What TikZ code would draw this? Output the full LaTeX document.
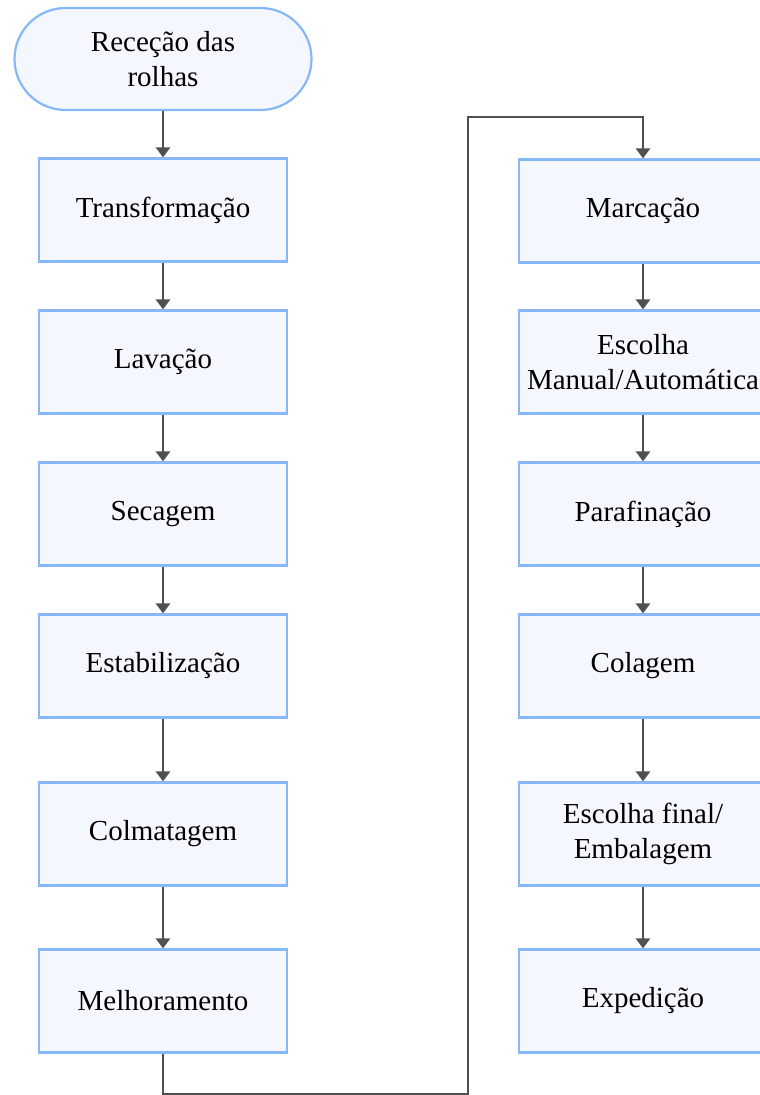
\documentclass[tikz,border=0pt]{standalone}
\usepackage{fontspec}
\setmainfont{Liberation Serif}
\usetikzlibrary{arrows.meta}
\definecolor{boxfill}{HTML}{F4F7FE}
\definecolor{boxline}{HTML}{86B8F8}
\definecolor{arrowc}{HTML}{505050}
\tikzset{
  procbox/.style={draw=boxline, fill=boxfill, line width=2.2pt, minimum width=248pt, minimum height=103pt, inner sep=0pt, align=center, font=\fontsize{29}{35}\selectfont},
  startbox/.style={procbox, minimum width=297pt, minimum height=102pt, rounded corners=51pt},
  flow/.style={draw=arrowc, line width=2.5pt, -{Triangle[width=14pt,length=10pt]}},
}
\begin{document}
\begin{tikzpicture}[x=1pt,y=-1pt]
\useasboundingbox (0,0) rectangle (760,1095);
\clip (0,0) rectangle (760,1095);
\node[startbox] (s) at (163,59) {Receção das\\rolhas};
\node[procbox] (l1) at (163,210) {Transformação};
\node[procbox] (l2) at (163,362) {Lavação};
\node[procbox] (l3) at (163,514) {Secagem};
\node[procbox] (l4) at (163,666) {Estabilização};
\node[procbox] (l5) at (163,834) {Colmatagem};
\node[procbox] (l6) at (163,1001) {Melhoramento};
\node[procbox] (r1) at (643,211) {Marcação};
\node[procbox] (r2) at (643,362) {Escolha\\Manual/Automática};
\node[procbox] (r3) at (643,514) {Parafinação};
\node[procbox] (r4) at (643,666) {Colagem};
\node[procbox] (r5) at (643,834) {Escolha final/\\Embalagem};
\node[procbox] (r6) at (643,1001) {Expedição};
\coordinate (c1) at (163,1094);
\coordinate (c2) at (468,1094);
\coordinate (c3) at (468,117);
\coordinate (c4) at (643,117);
\draw[flow] (s) -- (l1);
\draw[flow] (l1) -- (l2);
\draw[flow] (l2) -- (l3);
\draw[flow] (l3) -- (l4);
\draw[flow] (l4) -- (l5);
\draw[flow] (l5) -- (l6);
\draw[flow] (l6.south) -- (c1) -- (c2) -- (c3) -- (c4) -- (r1.north);
\draw[flow] (r1) -- (r2);
\draw[flow] (r2) -- (r3);
\draw[flow] (r3) -- (r4);
\draw[flow] (r4) -- (r5);
\draw[flow] (r5) -- (r6);
\end{tikzpicture}
\end{document}
